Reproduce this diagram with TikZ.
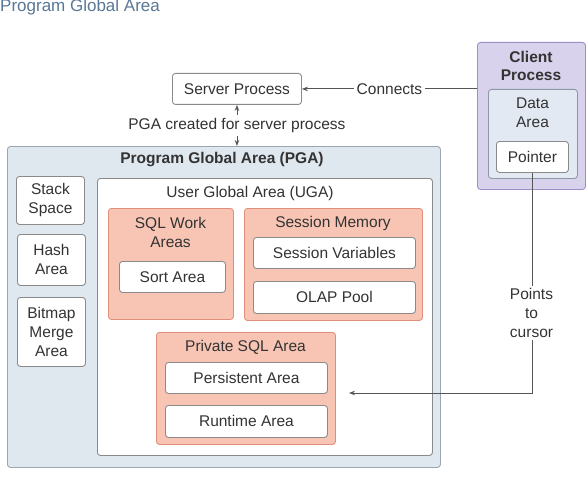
\documentclass[tikz,border=0pt]{standalone}
\usepackage{fontspec}
\setmainfont{Liberation Sans}
\usetikzlibrary{arrows.meta}
\definecolor{txt}{HTML}{333333}
\definecolor{titlecol}{HTML}{5A7896}
\definecolor{pgafill}{HTML}{DFE7EF}
\definecolor{pgaedge}{HTML}{9AA6B2}
\definecolor{boxedge}{HTML}{8A8A8A}
\definecolor{salfill}{HTML}{F8C5B4}
\definecolor{saledge}{HTML}{E0907A}
\definecolor{clifill}{HTML}{D9D2EC}
\definecolor{cliedge}{HTML}{9D8FC7}
\definecolor{datafill}{HTML}{E3E9F2}
\definecolor{dataedge}{HTML}{8C98A8}
\definecolor{linecol}{HTML}{555555}
\tikzset{
  base/.style={draw, rounded corners=3pt, line width=0.9pt, anchor=north west, inner sep=0pt, text=txt,
    font=\fontsize{15.5}{19}\selectfont, align=center},
  wbox/.style={base, draw=boxedge, fill=white},
  salbox/.style={base, draw=saledge, fill=salfill},
  pgabox/.style={base, draw=pgaedge, fill=pgafill},
  clibox/.style={base, draw=cliedge, fill=clifill},
  databox/.style={base, draw=dataedge, fill=datafill},
  lbl/.style={text=txt, font=\fontsize{15.5}{19}\selectfont, align=center, inner sep=1pt},
  blbl/.style={lbl, font=\fontsize{15.5}{18}\selectfont\bfseries},
  arr/.style={draw=linecol, line width=0.9pt, -{Stealth[length=6pt,width=4.5pt]}},
  darr/.style={draw=linecol, line width=0.9pt, {Stealth[length=6pt,width=4.5pt]}-{Stealth[length=6pt,width=4.5pt]}},
}
\begin{document}
\begin{tikzpicture}[x=1pt,y=-1pt]
\useasboundingbox[fill=white] (0,0) rectangle (588,476);
\node[anchor=base west, inner sep=0pt, text=titlecol, font=\fontsize{17}{20}\selectfont] (title) at (0,12) {Program Global Area};

% server and client
\node[wbox, minimum width=129pt, minimum height=31pt] (server) at (172,73) {Server Process};
\node[clibox, minimum width=108pt, minimum height=147pt] (client) at (477,42) {};
\node[blbl] (clientlbl) at (531,66) {Client\\Process};
\node[databox, minimum width=89pt, minimum height=89pt] (data) at (488,89) {};
\node[lbl] (datalbl) at (532.5,113) {Data\\Area};
\node[wbox, minimum width=72pt, minimum height=31pt] (pointer) at (496,141) {Pointer};

% PGA
\node[pgabox, minimum width=433pt, minimum height=321pt] (pga) at (7,146) {};
\node[blbl] (pgalbl) at (222,160) {Program Global Area (PGA)};
\node[wbox, minimum width=68pt, minimum height=48pt] (stack) at (16,176) {Stack\\Space};
\node[wbox, minimum width=68pt, minimum height=51pt] (hash) at (17,234) {Hash\\Area};
\node[wbox, minimum width=68pt, minimum height=69pt] (bitmap) at (17,297) {Bitmap\\Merge\\Area};

% UGA
\node[wbox, minimum width=335pt, minimum height=277pt] (uga) at (97,178) {};
\node[lbl] (ugalbl) at (250,193) {User Global Area (UGA)};

\node[salbox, minimum width=125pt, minimum height=111pt] (sqlwa) at (108,208) {};
\node[lbl] (sqlwalbl) at (170.5,232.5) {SQL Work\\Areas};
\node[wbox, minimum width=106pt, minimum height=31pt] (sort) at (119,261) {Sort Area};

\node[salbox, minimum width=178pt, minimum height=112pt] (sess) at (244,208) {};
\node[lbl] (sesslbl) at (333,223) {Session Memory};
\node[wbox, minimum width=162pt, minimum height=31pt] (sessvar) at (253,237) {Session Variables};
\node[wbox, minimum width=162pt, minimum height=32pt] (olap) at (253,281) {OLAP Pool};

\node[salbox, minimum width=179pt, minimum height=112pt] (priv) at (156,332) {};
\node[lbl] (privlbl) at (245.5,347) {Private SQL Area};
\node[wbox, minimum width=162pt, minimum height=31pt] (persist) at (165,362) {Persistent Area};
\node[wbox, minimum width=162pt, minimum height=32pt] (runtime) at (165,405) {Runtime Area};

% connectors
\draw[arr] (client.west |- server.east) -- node[fill=white, lbl, inner sep=3pt] (conn) {Connects} (server.east);
\draw[darr] (server.south) -- node[fill=white, lbl, inner sep=3pt] (pgacr) {PGA created for server process} (server.south |- pga.north);
\coordinate (target) at (349,393);
\draw[arr] (pointer.south) -- (pointer.south |- target) -- (target);
\node[lbl, fill=white, inner sep=2pt] (points) at (531.5,313) {Points\\to\\cursor};
\end{tikzpicture}
\end{document}
